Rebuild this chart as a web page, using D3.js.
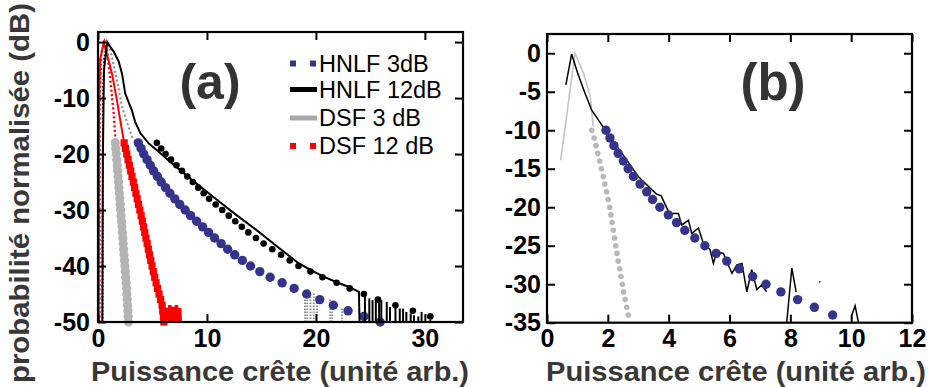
<!DOCTYPE html>
<html><head><meta charset="utf-8">
<script src="https://cdn.jsdelivr.net/npm/d3@7"></script>
<style>
html,body{margin:0;padding:0;background:#fff;}
svg{display:block;font-family:"Liberation Sans",Arial,sans-serif;}
</style></head>
<body>
<svg id="c" width="928" height="387"></svg>
<script>
// ---------- Panel (a) data ----------
const aTicksX = [0, 10, 20, 30];
const aTicksY = [0, -10, -20, -30, -40, -50];
const aLevels = [-18,-19,-20,-21,-22,-23,-24,-25,-26,-27,-28,-29,-30,-31,-32,-33,-34,-35,-36,-37,-38,-39,-40,-41,-42,-43,-44,-45,-46,-47,-48,-49,-50];
const hnlf3X  = [3.7,3.95,4.2,4.5,4.8,5.1,5.45,5.8,6.2,6.6,7.05,7.5,8.0,8.5,9.05,9.6,10.15,10.7,11.3,11.9,12.55,13.25,14.0,14.85,15.8,16.9,18.0,19.15,20.35,21.6,22.95,24.4,25.9];
const dsf3X   = [1.58,1.63,1.68,1.72,1.76,1.80,1.84,1.88,1.92,1.96,2.0,2.04,2.08,2.12,2.16,2.2,2.24,2.28,2.31,2.35,2.39,2.43,2.47,2.51,2.55,2.58,2.62,2.65,2.68,2.71,2.74,2.77,2.8];
const dsf12X  = [2.4,2.52,2.64,2.76,2.88,3.0,3.12,3.24,3.36,3.48,3.6,3.72,3.84,3.96,4.07,4.18,4.29,4.4,4.51,4.62,4.73,4.84,4.96,5.08,5.2,5.33,5.46,5.6,5.74,5.88,5.94,6.0,6.05];
const hnlf12FitY = [-18,-19,-20,-21,-22,-23,-24,-25,-26,-27,-28,-29,-30,-31,-32,-33,-34,-35,-36,-37,-38,-39,-40,-41,-42,-43,-44,-45,-46,-47,-48,-49];
const hnlf12FitX = [5.4,5.8,6.2,6.7,7.2,7.7,8.2,8.7,9.2,9.7,10.2,10.8,11.4,12.0,12.6,13.2,13.8,14.5,15.2,16.0,16.8,17.6,18.4,19.5,20.6,21.9,23.1,24.4,25.7,27.3,28.9,30.5];
const hnlf12LineX = [0.4,0.45,0.55,0.85,1.0,1.44,1.9,2.2,2.5,2.8,3.1,3.4,3.9,4.65,5.4,6.5,7.8,9.5,11.0,12.5,14.5,16.5,18.4,19.5,20.6,21.9,23.1,23.95,24.0];
const hnlf12LineY = [-50,-20,-5,0,-0.5,-1.7,-3.5,-5.6,-9.2,-10.7,-12.1,-14.2,-16.3,-18.1,-19.3,-21.2,-23.3,-26.0,-28.3,-30.6,-33.5,-36.6,-39.5,-40.7,-41.8,-42.9,-43.8,-44.6,-50];
const hnlf12SpikeX   = [24.5,24.9,25.2,25.5,25.8,26.0,26.5,26.8,27.3,27.7,28.0,28.3,28.7,29.0,29.4,29.7,30.5];
const hnlf12SpikeTop = [-44.9,-45.8,-46.1,-45.8,-46.0,-46.1,-46.4,-47.3,-47.1,-47.6,-47.6,-48.2,-48.5,-48.8,-49.0,-48.2,-49.6];
const grayDotX = [0.9,1.13,1.74,2.2,2.7,3.1,3.6];
const grayDotY = [-0.5,-1.4,-6.8,-11.5,-14.5,-16.9,-18];
const graySpikeX   = [19.0,19.2,19.5,19.8,20.1,21.3,21.5,22.4];
const graySpikeTop = [-45.2,-44.6,-45.5,-44.9,-46,-45.8,-47,-47.5];
const redLineX = [0.06,0.1,0.2,0.52,0.8,1.28,1.74,2.0,2.36];
const redLineY = [-50,-10,-3,-0.2,-2,-5.6,-10.4,-13.5,-17.5];
const redDotX = [0.13,0.15,0.3,0.6,0.83,1.13,1.44,1.6];
const redDotY = [-50,-10,-2,0,-1.4,-6.8,-12.7,-17.5];
const blackDotX = [0.42,0.45,0.55,0.8];
const blackDotY = [-50,-10,-3,-0.5];
const redNoiseX = [5.9,6.0,6.1,6.3,6.45,6.6,6.7,6.9,7.0,7.2,7.35,7.5,7.55];
const redNoiseY = [-50,-47,-50,-47.5,-50,-47,-50,-47.3,-50,-47,-50,-47.5,-50];
const legendLabels = ["HNLF 3dB", "HNLF 12dB", "DSF 3 dB", "DSF 12 dB"];

// ---------- Panel (b) data ----------
const bTicksX = [0, 2, 4, 6, 8, 10, 12];
const bTicksY = [0, -5, -10, -15, -20, -25, -30, -35];
const bLevels = [-10,-11,-12,-13,-14,-15,-16,-17,-18,-19,-20,-21,-22,-23,-24,-25,-26,-27,-28,-29,-30,-31,-32,-33,-34];
const bHnlf3X = [1.94,2.07,2.2,2.34,2.51,2.67,2.84,3.06,3.28,3.47,3.71,3.99,4.26,4.53,4.86,5.19,5.56,5.91,6.32,6.76,7.2,7.69,8.24,8.79,9.39];
const bDsfX   = [1.47,1.55,1.61,1.67,1.73,1.79,1.85,1.9,1.96,2.01,2.06,2.1,2.14,2.18,2.22,2.26,2.3,2.34,2.39,2.43,2.48,2.52,2.57,2.62,2.67];
const bLineX = [0.62,0.81,1.0,1.25,1.47,1.8,2.0,2.5,3.0,3.44,3.6,3.75,4.0,4.1,4.32,4.43,4.65,4.76,4.98,5.14,5.36,5.47,5.58,5.8,6.08,6.24,6.41,6.57,6.73,6.9,7.06,7.22,null,7.88,8.05,8.19,null,10.02,10.13,10.24];
const bLineY = [-4.1,-0.1,-2.5,-5.2,-7.4,-9.3,-10.4,-13.2,-16,-17.7,-18.3,-18.5,-20.6,-20.8,-20.8,-22.3,-21.7,-23.4,-22.7,-24.7,-25.5,-27.3,-25.8,-26,-28.6,-27.5,-27.3,-31,-28.1,-30.7,-30.1,-31,null,-35,-27.9,-31,null,-34,-32.8,-35];
const bGrayX = [0.45,0.92,1.2,1.42,1.52];
const bGrayY = [-13.9,0,-2.6,-5.6,-9.5];
const bStrayX = [8.97];
const bStrayY = [-29.7];

const BLUE = "#34348c", GRAYD = "#b4b4b4", RED = "#ff0000";
const TXT = "#383838";

const svg = d3.select("#c");

function frame(g, x, y, xt, yt, yPad) {
  const [x0, x1] = x.range(), [y0, y1] = y.range();
  const fmt = d => String(d);
  const bottom = g.append("g").attr("transform", `translate(0,${y0})`)
    .call(d3.axisBottom(x).tickValues(xt).tickSizeInner(-8).tickSizeOuter(0).tickPadding(7).tickFormat(fmt));
  const top = g.append("g").attr("transform", `translate(0,${y1})`)
    .call(d3.axisTop(x).tickValues(xt).tickSizeInner(-8).tickSizeOuter(0).tickFormat(""));
  const left = g.append("g").attr("transform", `translate(${x0},0)`)
    .call(d3.axisLeft(y).tickValues(yt).tickSizeInner(-8).tickSizeOuter(0).tickPadding(yPad).tickFormat(fmt));
  const right = g.append("g").attr("transform", `translate(${x1},0)`)
    .call(d3.axisRight(y).tickValues(yt).tickSizeInner(-8).tickSizeOuter(0).tickFormat(""));
  [bottom, top, left, right].forEach(a => {
    a.select(".domain").remove();
    a.selectAll("line").attr("stroke", "#000").attr("stroke-width", 2);
    a.selectAll("text").attr("fill", "#000").attr("font-size", 25).attr("font-weight", "bold")
      .attr("font-family", '"Liberation Sans",Arial,sans-serif');
  });
  g.append("rect").attr("x", x0).attr("y", y1).attr("width", x1 - x0).attr("height", y0 - y1)
    .attr("fill", "none").attr("stroke", "#000").attr("stroke-width", 2.2);
}

function pathFrom(g, x, y, xs, ys, attrs) {
  const pts = xs.map((d, i) => [d, ys[i]]);
  const line = d3.line().defined(p => p[0] !== null && p[1] !== null).x(p => x(p[0])).y(p => y(p[1]));
  const p = g.append("path").attr("d", line(pts)).attr("fill", "none");
  Object.entries(attrs).forEach(([k, v]) => p.attr(k, v));
  return p;
}

// ================= Panel (a) =================
const xa = d3.scaleLinear().domain([0, 33.5]).range([98, 463]);
const ya = d3.scaleLinear().domain([-50, 1.8]).range([322, 32]);
const ga = svg.append("g");
const da = ga.append("g");

pathFrom(da, xa, ya, blackDotX, blackDotY, {stroke: "#000", "stroke-width": 1.8, "stroke-dasharray": "1.5,2"});
pathFrom(da, xa, ya, grayDotX, grayDotY, {stroke: "#8a8a8a", "stroke-width": 2, "stroke-dasharray": "2,2.5"});
pathFrom(da, xa, ya, redDotX, redDotY, {stroke: RED, "stroke-width": 2.4, "stroke-dasharray": "2,2.5"});
pathFrom(da, xa, ya, redLineX, redLineY, {stroke: RED, "stroke-width": 2});

da.append("g").selectAll("line").data(graySpikeX).join("line")
  .attr("x1", d => xa(d)).attr("x2", d => xa(d))
  .attr("y1", ya(-50)).attr("y2", (d, i) => ya(graySpikeTop[i]))
  .attr("stroke", "#8a8a8a").attr("stroke-width", 1.8).attr("stroke-dasharray", "1.5,1.5");

da.append("g").selectAll("circle").data(dsf3X).join("circle")
  .attr("cx", d => xa(d)).attr("cy", (d, i) => ya(aLevels[i])).attr("r", 4.6).attr("fill", GRAYD);

da.append("g").selectAll("rect").data(dsf12X).join("rect")
  .attr("x", d => xa(d) - 3.6).attr("y", (d, i) => ya(aLevels[i]) - 3.6)
  .attr("width", 7.2).attr("height", 7.2).attr("fill", RED);
pathFrom(da, xa, ya, redNoiseX, redNoiseY, {stroke: RED, "stroke-width": 3.5});

da.append("g").selectAll("circle").data(hnlf3X).join("circle")
  .attr("cx", d => xa(d)).attr("cy", (d, i) => ya(aLevels[i])).attr("r", 4.7).attr("fill", BLUE);

pathFrom(da, xa, ya, hnlf12LineX, hnlf12LineY, {stroke: "#000", "stroke-width": 2});
da.append("g").selectAll("line").data(hnlf12SpikeX).join("line")
  .attr("x1", d => xa(d)).attr("x2", d => xa(d))
  .attr("y1", ya(-50)).attr("y2", (d, i) => ya(hnlf12SpikeTop[i]))
  .attr("stroke", "#000").attr("stroke-width", 2);
da.append("g").selectAll("circle").data(hnlf12FitX).join("circle")
  .attr("cx", d => xa(d)).attr("cy", (d, i) => ya(hnlf12FitY[i])).attr("r", 3.3).attr("fill", "#000");

frame(ga, xa, ya, aTicksX, aTicksY, 8);

// legend
const lg = ga.append("g");
const legY = [63.5, 89.5, 118, 146];
const legX0 = 290, legX1 = 317;
[legX0 + 3, legX1 - 4].forEach(cx => lg.append("rect").attr("x", cx - 3).attr("y", legY[0] - 3).attr("width", 6).attr("height", 6).attr("fill", BLUE));
lg.append("line").attr("x1", legX0).attr("x2", legX1).attr("y1", legY[1]).attr("y2", legY[1]).attr("stroke", "#000").attr("stroke-width", 5);
lg.append("line").attr("x1", legX0).attr("x2", legX1).attr("y1", legY[2]).attr("y2", legY[2]).attr("stroke", "#a8a8a8").attr("stroke-width", 5);
[legX0 + 3, legX1 - 4].forEach(cx => lg.append("rect").attr("x", cx - 3).attr("y", legY[3] - 3).attr("width", 6).attr("height", 6).attr("fill", RED));
lg.selectAll("text").data(legendLabels).join("text")
  .attr("x", 319).attr("y", (d, i) => legY[i] + 8).attr("font-size", 23.5).attr("fill", "#000").text(d => d);

ga.append("text").attr("x", 210).attr("y", 99).attr("text-anchor", "middle")
  .attr("font-size", 50).attr("font-weight", "bold").attr("fill", "#333").text("(a)");

ga.append("text").attr("x", 280).attr("y", 381).attr("text-anchor", "middle")
  .attr("font-size", 27).attr("font-weight", "bold").attr("fill", TXT)
  .attr("textLength", 378).attr("lengthAdjust", "spacingAndGlyphs").text("Puissance crête (unité arb.)");

svg.append("text").attr("transform", "translate(29,193) rotate(-90)").attr("text-anchor", "middle")
  .attr("font-size", 27).attr("font-weight", "bold").attr("fill", TXT)
  .attr("textLength", 380).attr("lengthAdjust", "spacingAndGlyphs").text("probabilité normalisée (dB)");

// ================= Panel (b) =================
const xb = d3.scaleLinear().domain([0, 12]).range([547, 912]);
const yb = d3.scaleLinear().domain([-35, 2.5]).range([322.7, 34]);
const gb = svg.append("g");
const db = gb.append("g");

pathFrom(db, xb, yb, bGrayX, bGrayY, {stroke: "#c4c4c4", "stroke-width": 1.6});
db.append("g").selectAll("circle").data(bDsfX).join("circle")
  .attr("cx", d => xb(d)).attr("cy", (d, i) => yb(bLevels[i])).attr("r", 2.8).attr("fill", "#b9b9b9");
pathFrom(db, xb, yb, bLineX, bLineY, {stroke: "#000", "stroke-width": 1.5});
db.append("g").selectAll("circle").data(bHnlf3X).join("circle")
  .attr("cx", d => xb(d)).attr("cy", (d, i) => yb(bLevels[i])).attr("r", 4.7).attr("fill", BLUE);
db.append("g").selectAll("circle").data(bStrayX).join("circle")
  .attr("cx", d => xb(d)).attr("cy", (d, i) => yb(bStrayY[i])).attr("r", 0.8).attr("fill", "#000");

frame(gb, xb, yb, bTicksX, bTicksY, 6);

gb.append("text").attr("x", 773).attr("y", 100).attr("text-anchor", "middle")
  .attr("font-size", 51).attr("font-weight", "bold").attr("fill", "#333").text("(b)");

gb.append("text").attr("x", 736).attr("y", 381).attr("text-anchor", "middle")
  .attr("font-size", 27).attr("font-weight", "bold").attr("fill", TXT)
  .attr("textLength", 380).attr("lengthAdjust", "spacingAndGlyphs").text("Puissance crête (unité arb.)");
</script>
</body></html>
